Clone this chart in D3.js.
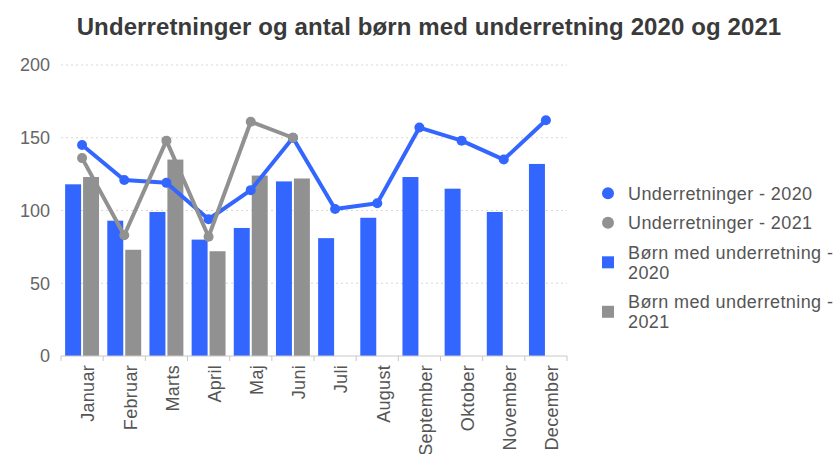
<!DOCTYPE html>
<html>
<head>
<meta charset="utf-8">
<script src="https://cdn.jsdelivr.net/npm/d3@7"></script>
<style>
  html, body { margin: 0; padding: 0; background: #fff; }
  svg { display: block; font-family: "Liberation Sans", Arial, sans-serif; }
</style>
</head>
<body>
<svg id="chart" width="834" height="454"></svg>
<script>
// --- data ---
var months = ['Januar', 'Februar', 'Marts', 'April', 'Maj', 'Juni', 'Juli',
  'August', 'September', 'Oktober', 'November', 'December'];
var underretninger2020 = [145, 121, 119, 94, 114, 150, 101, 105, 157, 148, 135, 162];
var underretninger2021 = [136, 83, 148, 82, 161, 150];
var boern2020 = [118, 93, 99, 80, 88, 120, 81, 95, 123, 115, 99, 132];
var boern2021 = [123, 73, 135, 72, 124, 122];
var yTicks = [0, 50, 100, 150, 200];
var title = 'Underretninger og antal børn med underretning 2020 og 2021';

var blue = '#3366ff',
  grey = '#919191';

var legendItems = [
  { lines: ['Underretninger - 2020'], color: blue, shape: 'circle' },
  { lines: ['Underretninger - 2021'], color: grey, shape: 'circle' },
  { lines: ['Børn med underretning -', '2020'], color: blue, shape: 'square' },
  { lines: ['Børn med underretning -', '2021'], color: grey, shape: 'square' }
];

//--------------------------------------------------

var svg = d3.select('#chart');

var x = d3.scaleBand()
  .domain(months)
  .range([61, 567]);

var xSub = d3.scaleBand()
  .domain(['2020', '2021'])
  .range([0, x.bandwidth()])
  .paddingInner(0.11)
  .paddingOuter(0.23);

var y = d3.scaleLinear()
  .domain([0, 200])
  .range([356, 65]);

// title
svg.append('text')
  .attr('x', 429)
  .attr('y', 35)
  .attr('text-anchor', 'middle')
  .style('font-size', '24px')
  .style('font-weight', 'bold')
  .style('letter-spacing', '0.1px')
  .style('fill', '#3a3a3a')
  .text(title);

// gridlines
svg.append('g')
  .selectAll('line')
  .data(yTicks.filter(function(d) { return d > 0; }))
  .enter().append('line')
  .attr('x1', 61)
  .attr('x2', 567)
  .attr('y1', function(d) { return y(d); })
  .attr('y2', function(d) { return y(d); })
  .style('stroke', '#d8d8d8')
  .style('stroke-dasharray', '2,3');

// y labels
svg.append('g')
  .selectAll('text')
  .data(yTicks)
  .enter().append('text')
  .attr('x', 50)
  .attr('y', function(d) { return y(d); })
  .attr('dy', '0.35em')
  .attr('text-anchor', 'end')
  .style('font-size', '18px')
  .style('fill', '#666')
  .text(function(d) { return d; });

// bars
function drawBars(values, key, color) {
  svg.append('g')
    .selectAll('rect')
    .data(values)
    .enter().append('rect')
    .attr('x', function(d, i) { return x(months[i]) + xSub(key); })
    .attr('width', xSub.bandwidth())
    .attr('y', function(d) { return y(d); })
    .attr('height', function(d) { return y(0) - y(d); })
    .style('fill', color);
}
drawBars(boern2020, '2020', blue);
drawBars(boern2021, '2021', grey);

// x axis
var xAxis = svg.append('g')
  .attr('transform', 'translate(0,' + y(0) + ')');

xAxis.append('line')
  .attr('x1', 61)
  .attr('x2', 567)
  .style('stroke', '#c8c8c8');

xAxis.selectAll('.tick')
  .data(months.concat(['end']))
  .enter().append('line')
  .attr('class', 'tick')
  .attr('x1', function(d, i) { return x.range()[0] + i * x.step(); })
  .attr('x2', function(d, i) { return x.range()[0] + i * x.step(); })
  .attr('y1', 0)
  .attr('y2', 5)
  .style('stroke', '#c8c8c8');

xAxis.selectAll('.lbl')
  .data(months)
  .enter().append('text')
  .attr('class', 'lbl')
  .attr('transform', function(d) {
    return 'translate(' + (x(d) + x.bandwidth() / 2 + 6) + ',9) rotate(-90)';
  })
  .attr('dy', '0.35em')
  .attr('text-anchor', 'end')
  .style('font-size', '18px')
  .style('letter-spacing', '0.3px')
  .style('fill', '#555')
  .text(function(d) { return d; });

// lines
function drawLine(values, color) {
  var cx = function(d, i) { return x(months[i]) + x.bandwidth() / 2; };
  var line = d3.line()
    .x(cx)
    .y(function(d) { return y(d); });

  svg.append('path')
    .datum(values)
    .attr('d', line)
    .style('fill', 'none')
    .style('stroke', color)
    .style('stroke-width', 4)
    .style('stroke-linejoin', 'round');

  svg.append('g')
    .selectAll('circle')
    .data(values)
    .enter().append('circle')
    .attr('cx', cx)
    .attr('cy', function(d) { return y(d); })
    .attr('r', 5)
    .style('fill', color);
}
drawLine(underretninger2020, blue);
drawLine(underretninger2021, grey);

// legend
var legendY = 183.3,
  lineH = 20;
legendItems.forEach(function(item) {
  var itemTop = legendY,
    h = item.lines.length * lineH,
    cy = itemTop + h / 2,
    g = svg.append('g');

  if (item.shape === 'circle') {
    g.append('circle')
      .attr('cx', 608)
      .attr('cy', cy)
      .attr('r', 6)
      .style('fill', item.color);
  } else {
    g.append('rect')
      .attr('x', 602)
      .attr('y', cy - 6)
      .attr('width', 12)
      .attr('height', 12)
      .style('fill', item.color);
  }

  g.selectAll('text')
    .data(item.lines)
    .enter().append('text')
    .attr('x', 628)
    .attr('y', function(d, i) { return itemTop + lineH / 2 + i * lineH + 6.5; })
    .style('font-size', '18px')
    .style('letter-spacing', '0.4px')
    .style('fill', '#555')
    .text(function(d) { return d; });

  legendY += h + 9.5;
});
</script>
</body>
</html>
